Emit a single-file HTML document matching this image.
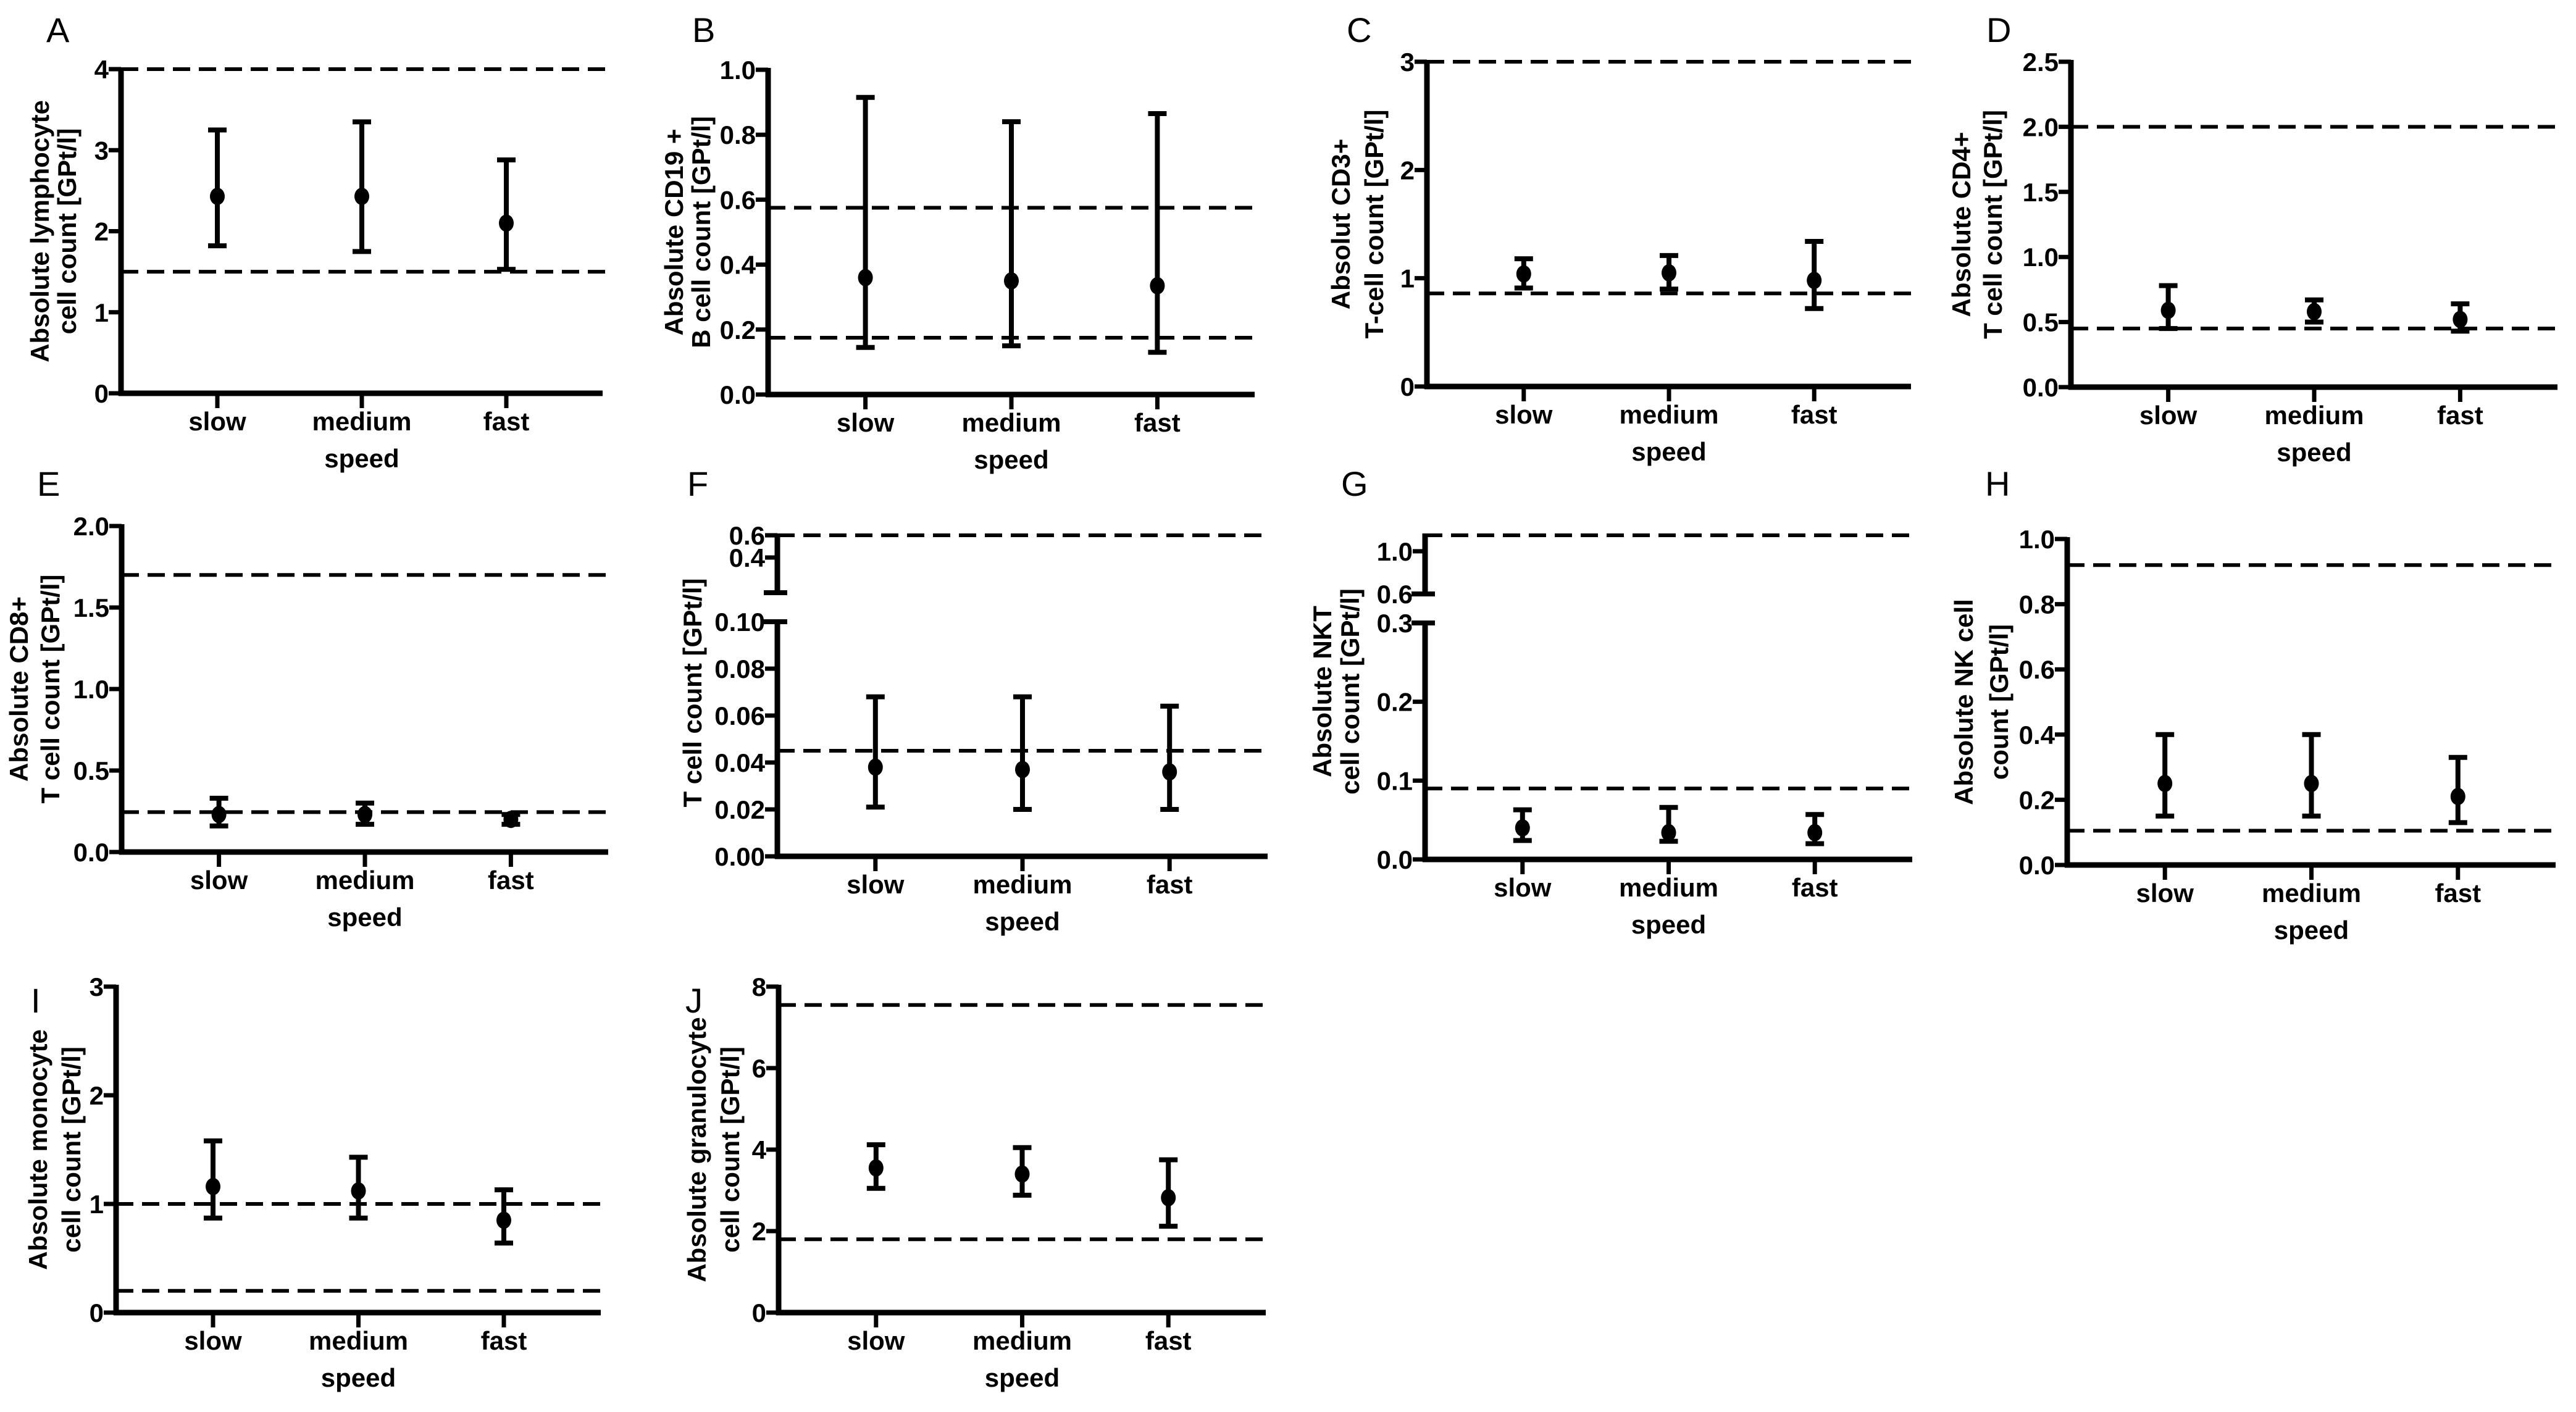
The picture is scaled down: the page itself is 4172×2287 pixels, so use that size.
<!DOCTYPE html>
<html><head><meta charset="utf-8"><style>
html,body{margin:0;padding:0;background:#fff}
svg{display:block}
text{font-family:"Liberation Sans",Arial,sans-serif;fill:#000}
.tick{font-weight:bold;font-size:42px;font-stretch:condensed}
.cat{font-weight:bold;font-size:42px;font-stretch:condensed}
.ttl{font-weight:bold;font-size:42px}
.let{font-size:56px}
</style></head><body>
<svg id="fig" xmlns="http://www.w3.org/2000/svg" width="4172" height="2287" viewBox="0 0 4172 2287"></svg>
<script>
const categories=["slow","medium","fast"];
// Panel A
const meanA=[2.43,2.43,2.1];const lowA=[1.82,1.75,1.53];const highA=[3.25,3.35,2.88];const refA=[4,1.5];const ticksA=[0,1,2,3,4];const tickLabA=["0","1","2","3","4"];
// Panel B
const meanB=[0.36,0.35,0.335];const lowB=[0.145,0.15,0.13];const highB=[0.915,0.84,0.865];const refB=[0.575,0.175];const ticksB=[0,0.2,0.4,0.6,0.8,1.0];const tickLabB=["0.0","0.2","0.4","0.6","0.8","1.0"];
// Panel C
const meanC=[1.04,1.05,0.98];const lowC=[0.91,0.9,0.72];const highC=[1.18,1.21,1.34];const refC=[3,0.86];const ticksC=[0,1,2,3];const tickLabC=["0","1","2","3"];
// Panel D
const meanD=[0.59,0.58,0.52];const lowD=[0.45,0.5,0.43];const highD=[0.78,0.67,0.64];const refD=[2.0,0.45];const ticksD=[0,0.5,1,1.5,2,2.5];const tickLabD=["0.0","0.5","1.0","1.5","2.0","2.5"];
// Panel E
const meanE=[0.23,0.23,0.2];const lowE=[0.16,0.17,0.17];const highE=[0.33,0.3,0.23];const refE=[1.7,0.245];const ticksE=[0,0.5,1,1.5,2];const tickLabE=["0.0","0.5","1.0","1.5","2.0"];
// Panel F
const meanF=[0.038,0.037,0.036];const lowF=[0.021,0.02,0.02];const highF=[0.068,0.068,0.064];const refF=[0.045];const refUpF=[0.6];const ticksF=[0,0.02,0.04,0.06,0.08,0.1];const tickLabF=["0.00","0.02","0.04","0.06","0.08","0.10"];const ticksUpF=[0.4,0.6];const tickLabUpF=["0.4","0.6"];
// Panel G
const meanG=[0.04,0.034,0.034];const lowG=[0.024,0.023,0.02];const highG=[0.063,0.066,0.057];const refG=[0.09];const refUpG=[1.15];const ticksG=[0,0.1,0.2,0.3];const tickLabG=["0.0","0.1","0.2","0.3"];const ticksUpG=[0.6,1.0];const tickLabUpG=["0.6","1.0"];
// Panel H
const meanH=[0.25,0.25,0.21];const lowH=[0.15,0.15,0.13];const highH=[0.4,0.4,0.33];const refH=[0.92,0.105];const ticksH=[0,0.2,0.4,0.6,0.8,1.0];const tickLabH=["0.0","0.2","0.4","0.6","0.8","1.0"];
// Panel I
const meanI=[1.16,1.12,0.85];const lowI=[0.87,0.87,0.64];const highI=[1.58,1.43,1.13];const refI=[1.0,0.2];const ticksI=[0,1,2,3];const tickLabI=["0","1","2","3"];
// Panel J
const meanJ=[3.55,3.4,2.82];const lowJ=[3.05,2.88,2.12];const highJ=[4.12,4.05,3.75];const refJ=[7.55,1.8];const ticksJ=[0,2,4,6,8];const tickLabJ=["0","2","4","6","8"];

const NS="http://www.w3.org/2000/svg";
const svg=document.getElementById('fig');
function mk(tag,attrs,parent){const e=document.createElementNS(NS,tag);for(const k in attrs)e.setAttribute(k,attrs[k]);(parent||svg).appendChild(e);return e;}

const panels=[
 {id:"a",letter:"A",lx:75,ly:68,x0:196,x1:976,yTop:112,yBot:637,max:4,mean:meanA,low:lowA,high:highA,ref:refA,ticks:ticksA,tl:tickLabA,title:["Absolute lymphocyte","cell count [GPt/l]"],tx:[64,108]},
 {id:"b",letter:"B",lx:1121,ly:68,x0:1244,x1:2032,yTop:113,yBot:639,max:1,mean:meanB,low:lowB,high:highB,ref:refB,ticks:ticksB,tl:tickLabB,title:["Absolute CD19 +","B cell count [GPt/l]"],tx:[1091,1135]},
 {id:"c",letter:"C",lx:2181,ly:68,x0:2311,x1:3095,yTop:100,yBot:626,max:3,mean:meanC,low:lowC,high:highC,ref:refC,ticks:ticksC,tl:tickLabC,title:["Absolut CD3+","T-cell count [GPt/l]"],tx:[2171,2225]},
 {id:"d",letter:"D",lx:3217,ly:68,x0:3354,x1:4142,yTop:100,yBot:627,max:2.5,mean:meanD,low:lowD,high:highD,ref:refD,ticks:ticksD,tl:tickLabD,title:["Absolute CD4+","T cell count [GPt/l]"],tx:[3176,3227]},
 {id:"e",letter:"E",lx:60,ly:803,x0:197,x1:985,yTop:852,yBot:1380,max:2,mean:meanE,low:lowE,high:highE,ref:refE,ticks:ticksE,tl:tickLabE,title:["Absolute CD8+","T cell count [GPt/l]"],tx:[30,81]},
 {id:"f",letter:"F",lx:1113,ly:803,x0:1259,x1:2053,yTop:1007,yBot:1387,max:0.1,mean:meanF,low:lowF,high:highF,ref:refF,ticks:ticksF,tl:tickLabF,title:["T cell count [GPt/l]"],tx:[1121],tyc:1122,
  up:{yTop:867,yBot:960,vTop:0.6,vBot:0.0833,ref:refUpF,ticks:ticksUpF,tl:tickLabUpF}},
 {id:"g",letter:"G",lx:2172,ly:803,x0:2308,x1:3097,yTop:1009,yBot:1392,max:0.3,mean:meanG,low:lowG,high:highG,ref:refG,ticks:ticksG,tl:tickLabG,title:["Absolute NKT","cell count [GPt/l]"],tx:[2141,2186],tyc:1120,
  up:{yTop:867,yBot:962,vTop:1.15,vBot:0.6,ref:refUpG,ticks:ticksUpG,tl:tickLabUpG}},
 {id:"h",letter:"H",lx:3215,ly:803,x0:3348,x1:4139,yTop:873,yBot:1401,max:1,mean:meanH,low:lowH,high:highH,ref:refH,ticks:ticksH,tl:tickLabH,title:["Absolute NK cell","count [GPt/l]"],tx:[3180,3237]},
 {id:"i",letter:"I",lx:50,ly:1640,x0:188,x1:973,yTop:1598,yBot:2126,max:3,mean:meanI,low:lowI,high:highI,ref:refI,ticks:ticksI,tl:tickLabI,title:["Absolute monocyte","cell count [GPt/l]"],tx:[61,115]},
 {id:"j",letter:"J",lx:1110,ly:1640,x0:1261,x1:2050,yTop:1598,yBot:2126,max:8,mean:meanJ,low:lowJ,high:highJ,ref:refJ,ticks:ticksJ,tl:tickLabJ,title:["Absolute granulocyte","cell count [GPt/l]"],tx:[1128,1182]}
];

panels.forEach(p=>{
 const g=mk('g',{});
 
 
 const y=v=>p.yBot-(v/p.max)*(p.yBot-p.yTop);
 const x=i=>p.x0+(p.x1-p.x0)*(0.2+0.3*i);
 const L=mk('text',{x:p.lx,y:p.ly,class:'let'},g);L.textContent=p.letter;
 
 
 p.ref.forEach(r=>{const d=mk('line',{x1:p.x0,x2:p.x1+4,y1:y(r),y2:y(r),stroke:'#000','stroke-width':6,'stroke-dasharray':'28 14'},g);
  
  });
 const ya=mk('line',{x1:p.x0,x2:p.x0,y1:p.yTop-3,y2:p.yBot+4,stroke:'#000','stroke-width':9},g);
 
 
 const xa=mk('line',{x1:p.x0-4,x2:p.x1,y1:p.yBot,y2:p.yBot,stroke:'#000','stroke-width':9},g);
 
 
 p.ticks.forEach((t,k)=>{
  mk('line',{x1:p.x0-20,x2:p.x0,y1:y(t),y2:y(t),stroke:'#000','stroke-width':7},g);
  const tt=mk('text',{x:p.x0-20,y:y(t)+15,'text-anchor':'end',class:'tick'},g);tt.textContent=p.tl[k];
  
  
 });
 if(p.up){
  const u=p.up;
  const yu=v=>u.yBot-(v-u.vBot)/(u.vTop-u.vBot)*(u.yBot-u.yTop);
  mk('line',{x1:p.x0-22,x2:p.x0+16,y1:p.yTop,y2:p.yTop,stroke:'#000','stroke-width':8},g);
  mk('line',{x1:p.x0,x2:p.x0,y1:u.yTop-3,y2:u.yBot,stroke:'#000','stroke-width':9},g);
  mk('line',{x1:p.x0-22,x2:p.x0+16,y1:u.yBot,y2:u.yBot,stroke:'#000','stroke-width':8},g);
  u.ref.forEach(r=>{const d=mk('line',{x1:p.x0,x2:p.x1+4,y1:yu(r),y2:yu(r),stroke:'#000','stroke-width':6,'stroke-dasharray':'28 14'},g);
   
   });
  u.ticks.forEach((t,k)=>{
   mk('line',{x1:p.x0-20,x2:p.x0,y1:yu(t),y2:yu(t),stroke:'#000','stroke-width':7},g);
   const tt=mk('text',{x:p.x0-20,y:yu(t)+15,'text-anchor':'end',class:'tick'},g);tt.textContent=u.tl[k];
   
   
  });
 }
 categories.forEach((c,i)=>{
  mk('line',{x1:x(i),x2:x(i),y1:p.yBot,y2:p.yBot+24,stroke:'#000','stroke-width':7},g);
  const ct=mk('text',{x:x(i),y:p.yBot+60,'text-anchor':'middle',class:'cat'},g);ct.textContent=c;
  
  
  const eb=mk('g',{},g);
  
  
  mk('line',{x1:x(i),x2:x(i),y1:y(p.low[i]),y2:y(p.high[i]),stroke:'#000','stroke-width':8},eb);
  mk('line',{x1:x(i)-15,x2:x(i)+15,y1:y(p.low[i]),y2:y(p.low[i]),stroke:'#000','stroke-width':8},eb);
  mk('line',{x1:x(i)-15,x2:x(i)+15,y1:y(p.high[i]),y2:y(p.high[i]),stroke:'#000','stroke-width':8},eb);
  const dot=mk('ellipse',{cx:x(i),cy:y(p.mean[i]),rx:12,ry:14,fill:'#000'},g);
  
  
 });
 const sp=mk('text',{x:(p.x0+p.x1)/2,y:p.yBot+120,'text-anchor':'middle',class:'cat'},g);sp.textContent='speed';
 
 
 const cy=p.tyc||(p.yTop+p.yBot)/2;
 p.title.forEach((t,k)=>{
  const tx=p.tx[k]+15;
  const te=mk('text',{x:tx,y:cy,'text-anchor':'middle',class:'ttl',transform:`rotate(-90 ${tx} ${cy})`},g);te.textContent=t;
  
  
 });
});
</script>
</body></html>
